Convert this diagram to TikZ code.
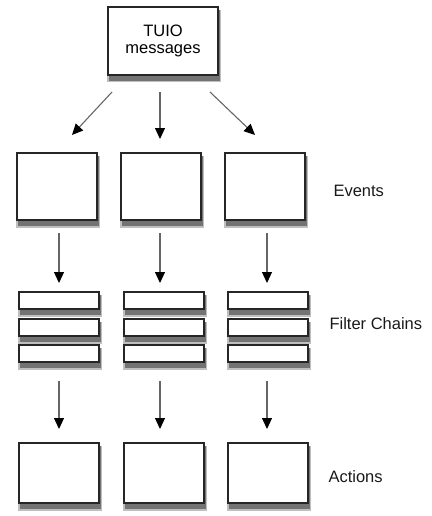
\documentclass[tikz,border=0pt]{standalone}
\usepackage{fontspec}
\setmainfont{Liberation Sans}
\usetikzlibrary{arrows.meta}
\newcommand\shbox[5]{% x y w h name
  \fill[shd] (#1-1,#2+3) rectangle ++(#3+4,#4+4.5);
  \fill[shd2] (#1+0.5,#2+3) rectangle ++(#3+1.5,#4+3);
  \draw[box] (#1,#2) rectangle ++(#3,#4) coordinate (#5);
}
\begin{document}
\begin{tikzpicture}[x=1pt,y=-1pt,
  box/.style={draw=black!85,line width=1.1pt,fill=white},
  shd/.style={fill=black!25},
  shd2/.style={fill=black!55},
  arr/.style={draw=black!60,line width=1.1pt,-{Triangle[length=11pt,width=10pt,fill=black,color=black]}},
  lbl/.style={anchor=west,font=\fontsize{16.5}{17}\selectfont,text=black!90}]
\useasboundingbox (0,0) rectangle (431,516);
% top
\shbox{108}{7}{110}{68}{tb}
\node[align=center,font=\fontsize{16.5}{17}\selectfont] (tuio) at (163,41) {TUIO\\messages};
% events
\foreach \x/\n in {17/1,121/2,225/3}{
  \shbox{\x}{153}{80}{67}{ev\n}
}
\node[lbl] (ev) at (330,191) {Events};
% filters
\foreach \x in {19,124,228}{
  \shbox{\x}{292}{80}{17}{fa}
  \shbox{\x}{319}{80}{17}{fb}
  \shbox{\x}{345}{80}{17}{fc}
}
\node[lbl] (fcl) at (326,324) {Filter Chains};
% actions
\foreach \x in {19,124,228}{
  \shbox{\x}{443}{80}{60}{ac}
}
\node[lbl] (acl) at (325,477) {Actions};
% arrows
\coordinate (t1) at (112,92); \coordinate (h1) at (72,135);
\coordinate (t2) at (160,92); \coordinate (h2) at (160,139);
\coordinate (t3) at (210,92); \coordinate (h3) at (255,135);
\draw[arr] (t1) -- (h1);
\draw[arr] (t2) -- (h2);
\draw[arr] (t3) -- (h3);
\foreach \x [count=\i] in {59,160,267}{
  \coordinate (e\i a) at (\x,233); \coordinate (e\i b) at (\x,283);
  \coordinate (f\i a) at (\x,381); \coordinate (f\i b) at (\x,429);
  \draw[arr] (e\i a) -- (e\i b);
  \draw[arr] (f\i a) -- (f\i b);
}
\end{tikzpicture}
\end{document}
